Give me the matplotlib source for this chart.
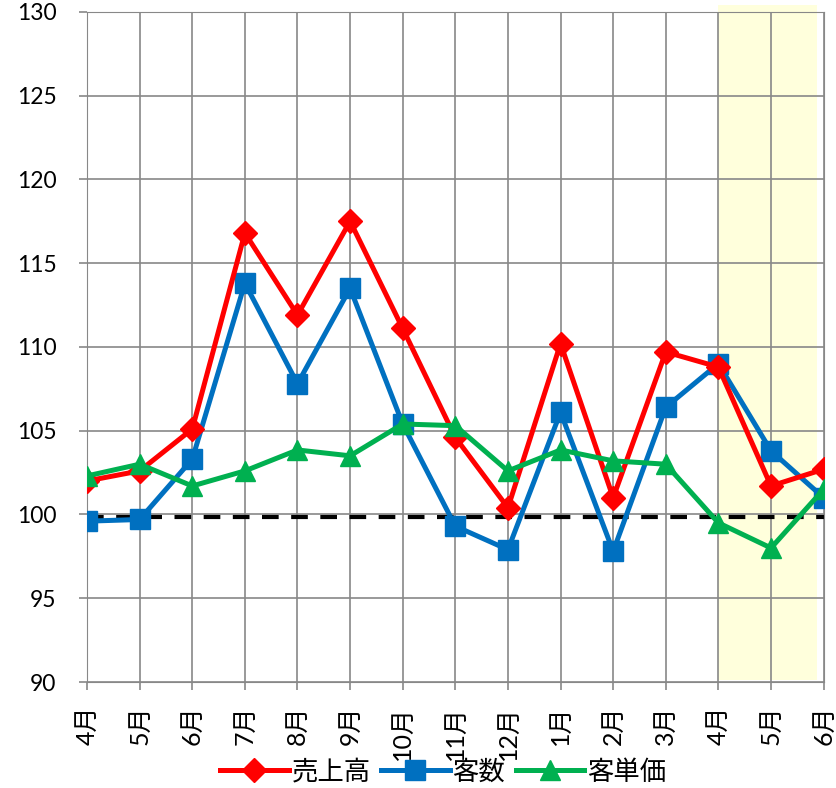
import matplotlib
matplotlib.use('Agg')
import matplotlib.pyplot as plt
from matplotlib.patches import Rectangle

plt.rcParams['font.family'] = ['Lato', 'Noto Sans CJK JP', 'DejaVu Sans']

months = ['4月', '5月', '6月', '7月', '8月', '9月', '10月', '11月', '12月',
          '1月', '2月', '3月', '4月', '5月', '6月']

# 売上高
sales = [102.0, 102.6, 105.1, 116.8, 111.9, 117.5, 111.1, 104.6, 100.4,
         110.2, 101.0, 109.7, 108.8, 101.7, 102.7]
# 客数
customers = [99.6, 99.7, 103.3, 113.8, 107.8, 113.5, 105.4, 99.3, 97.9,
             106.1, 97.8, 106.4, 109.0, 103.8, 101.0]
# 客単価
unit_price = [102.3, 103.0, 101.7, 102.6, 103.85, 103.5, 105.4, 105.3, 102.6,
              103.85, 103.2, 103.0, 99.5, 98.0, 101.5]

base_line = 99.85
hl_start, hl_end = 12, 13.88

fig = plt.figure(figsize=(8.37, 7.88), dpi=100)
ax = fig.add_axes([0.104, 0.1345, 0.88, 0.8505])

x = list(range(len(months)))

# 強調エリア
ax.add_patch(Rectangle((hl_start, 90.1), hl_end - hl_start, 40.3,
                       facecolor='#FFFFDC', edgecolor='none', zorder=0, clip_on=False))

ax.plot(x, sales, color='#FF0000', lw=3.6, marker='D', ms=12, label='売上高', zorder=4)
ax.plot(x, customers, color='#0070C0', lw=3.6, marker='s', ms=15, label='客数', zorder=3)
ax.plot(x, unit_price, color='#00B050', lw=3.6, marker='^', ms=15, label='客単価', zorder=5)

ax.plot([0, 14], [base_line, base_line], color='black', lw=3, dashes=(4, 3), zorder=2)

ax.set_xlim(0, 14)
ax.set_ylim(90, 130)
ax.set_yticks(range(90, 131, 5))
ax.set_xticks(x)
ax.set_xticklabels(months, rotation=90, fontsize=18)
ax.tick_params(axis='y', labelsize=16.5, length=6, width=1.2, color='#888888', pad=16)
ax.tick_params(axis='x', length=6, width=1.2, color='#888888', pad=11)

ax.grid(True, color='#888888', lw=1.2, zorder=1)
ax.set_axisbelow(True)
for s in ax.spines.values():
    s.set_color('#888888')

fig.legend(*ax.get_legend_handles_labels(), loc='center',
           bbox_to_anchor=(443 / 837, 1 - 772 / 788), ncol=3, frameon=False,
           fontsize=19, handlelength=2.6, handletextpad=0.1, columnspacing=0.4,
           borderaxespad=0, borderpad=0)

fig.savefig('out.png', dpi=100)
